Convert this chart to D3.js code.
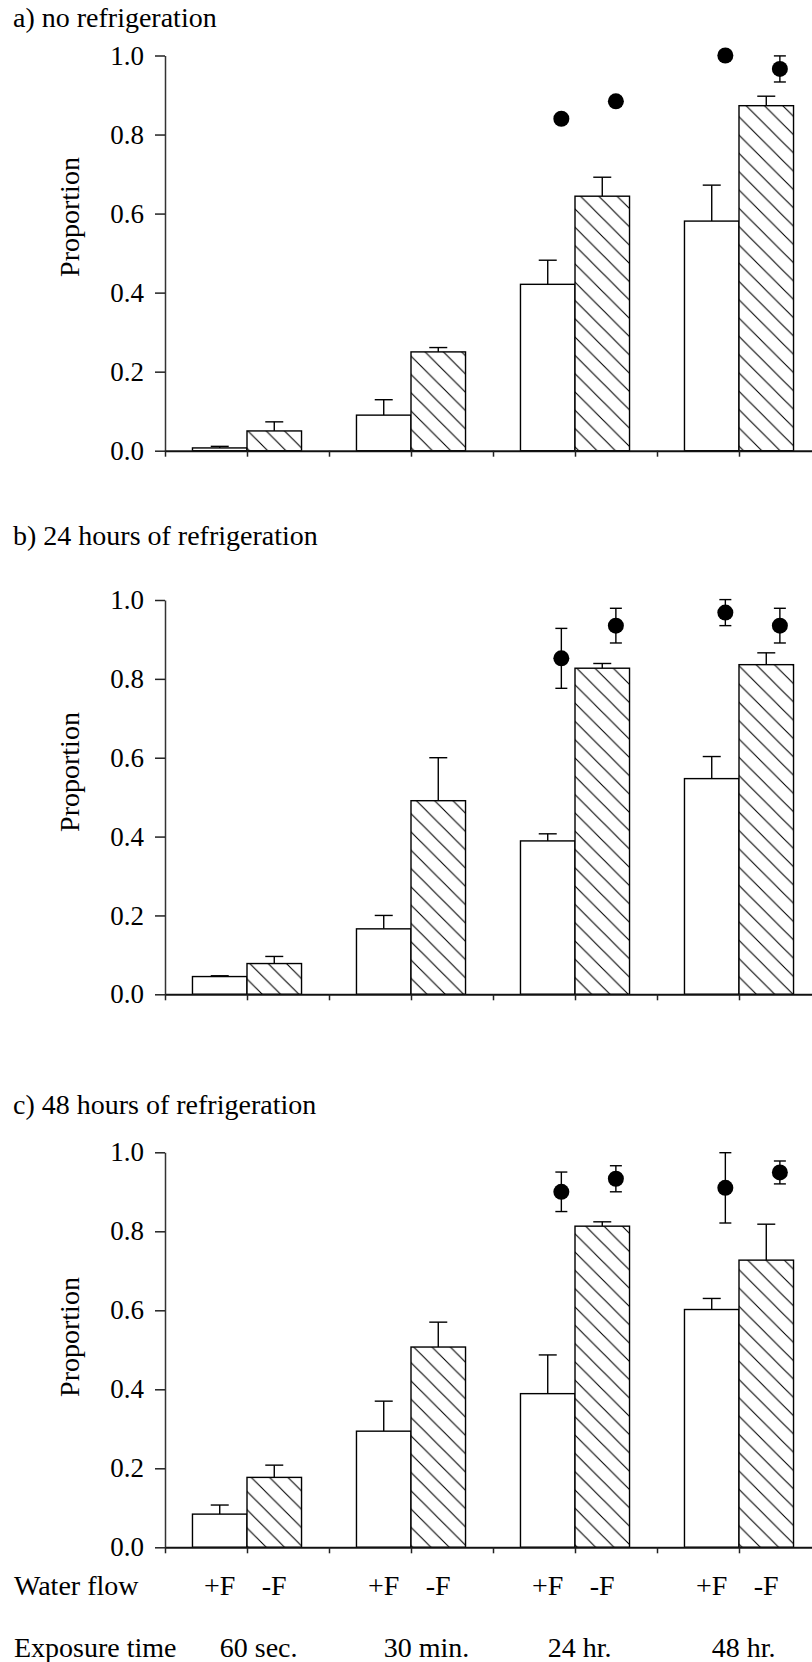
<!DOCTYPE html>
<html>
<head>
<meta charset="utf-8">
<script src="https://cdn.jsdelivr.net/npm/d3@7"></script>
<style>
  html, body { margin: 0; padding: 0; background: #fff; }
  svg { display: block; }
  text { font-family: "Liberation Serif", "Times New Roman", serif; fill: #000; }
</style>
</head>
<body>
<script>
// Exposure-time groups and water-flow treatments
const groups = ["60 sec.", "30 min.", "24 hr.", "48 hr."];
const flows = ["+F", "-F"];
const yTicks = [0, 0.2, 0.4, 0.6, 0.8, 1.0];
const panelTitles = ["a) no refrigeration", "b) 24 hours of refrigeration", "c) 48 hours of refrigeration"];

// Panel a: no refrigeration
const aPlusF = [0.007, 0.090, 0.421, 0.581];
const aPlusFSE = [0.004, 0.039, 0.061, 0.091];
const aMinusF = [0.050, 0.250, 0.644, 0.873];
const aMinusFSE = [0.023, 0.011, 0.048, 0.024];
// points shown above the last two groups: [group, flow, value, se]
const aPoints = [[2, 0, 0.840, 0], [2, 1, 0.884, 0.012], [3, 0, 1.000, 0], [3, 1, 0.966, 0.033]];

// Panel b: 24 hours of refrigeration
const bPlusF = [0.045, 0.166, 0.389, 0.547];
const bPlusFSE = [0.002, 0.034, 0.018, 0.056];
const bMinusF = [0.078, 0.491, 0.827, 0.836];
const bMinusFSE = [0.018, 0.109, 0.012, 0.030];
const bPoints = [[2, 0, 0.852, 0.076], [2, 1, 0.935, 0.044], [3, 0, 0.968, 0.033], [3, 1, 0.935, 0.044]];

// Panel c: 48 hours of refrigeration
const cPlusF = [0.084, 0.294, 0.389, 0.602];
const cPlusFSE = [0.023, 0.076, 0.098, 0.028];
const cMinusF = [0.177, 0.507, 0.813, 0.727];
const cMinusFSE = [0.031, 0.063, 0.011, 0.091];
const cPoints = [[2, 0, 0.900, 0.050], [2, 1, 0.933, 0.033], [3, 0, 0.910, 0.089], [3, 1, 0.949, 0.029]];

const panelData = [
  { title: panelTitles[0], plus: aPlusF, plusSE: aPlusFSE, minus: aMinusF, minusSE: aMinusFSE, points: aPoints },
  { title: panelTitles[1], plus: bPlusF, plusSE: bPlusFSE, minus: bMinusF, minusSE: bMinusFSE, points: bPoints },
  { title: panelTitles[2], plus: cPlusF, plusSE: cPlusFSE, minus: cMinusF, minusSE: cMinusFSE, points: cPoints }
];

// Vertical layout of each panel (pixel positions)
const panelLayout = [
  { yTop: 55.5, yBottom: 450.7, titleY: 27, labelY: 217 },
  { yTop: 600, yBottom: 994.3, titleY: 545, labelY: 772 },
  { yTop: 1152.3, yBottom: 1547.3, titleY: 1113.5, labelY: 1337 }
];

const W = 812, H = 1662;
const FONT = 28;
const TICK_FONT = 27;
const barW = 0.665;      // bar width in x-units (one unit = half a group)
const dotShift = 0.166;  // points sit slightly right of bar centre

const svg = d3.select("body").append("svg").attr("width", W).attr("height", H);

// Diagonal hatch for the -F bars
const defs = svg.append("defs");
const hs = 18.3;
const pat = defs.append("pattern").attr("id", "hatch")
  .attr("patternUnits", "userSpaceOnUse").attr("width", hs).attr("height", hs);
pat.append("rect").attr("width", hs).attr("height", hs).attr("fill", "#fff");
pat.append("path")
  .attr("d", `M${-hs/2},${hs/2} L${hs/2},${hs*1.5} M0,0 L${hs},${hs} M${hs/2},${-hs/2} L${hs*1.5},${hs/2}`)
  .attr("stroke", "#000").attr("stroke-width", 1.1).attr("fill", "none");

const x = d3.scaleLinear().domain([0, 8]).range([165, 821]);
const groupCenter = i => 2 * i + 1;

panelData.forEach((p, pi) => {
  const L = panelLayout[pi];
  const y = d3.scaleLinear().domain([0, 1]).range([L.yBottom, L.yTop]);
  const g = svg.append("g");

  // title
  g.append("text").attr("x", 13).attr("y", L.titleY)
    .attr("font-size", FONT).text(p.title);

  // y-axis label
  g.append("text")
    .attr("transform", `translate(79,${L.labelY}) rotate(-90)`)
    .attr("text-anchor", "middle").attr("font-size", 28).text("Proportion");

  // bars
  const bars = [];
  groups.forEach((gr, i) => {
    bars.push({ x0: groupCenter(i) - barW, x1: groupCenter(i), v: p.plus[i], se: p.plusSE[i], fill: "#fff" });
    bars.push({ x0: groupCenter(i), x1: groupCenter(i) + barW, v: p.minus[i], se: p.minusSE[i], fill: "url(#hatch)" });
  });

  // error whiskers (upper) for bars
  const eb = g.append("g").attr("stroke", "#000").attr("stroke-width", 1.4).attr("fill", "none");
  bars.forEach(b => {
    if (b.se <= 0) return;
    const cx = x((b.x0 + b.x1) / 2);
    eb.append("line").attr("x1", cx).attr("x2", cx).attr("y1", y(b.v)).attr("y2", y(b.v + b.se));
    eb.append("line").attr("x1", cx - 9).attr("x2", cx + 9).attr("y1", y(b.v + b.se)).attr("y2", y(b.v + b.se));
  });

  g.append("g").selectAll("rect").data(bars).join("rect")
    .attr("x", d => x(d.x0))
    .attr("width", d => x(d.x1) - x(d.x0))
    .attr("y", d => y(d.v))
    .attr("height", d => y(0) - y(d.v))
    .attr("fill", d => d.fill)
    .attr("stroke", "#000").attr("stroke-width", 1.4);

  // points with symmetric error bars
  const pts = g.append("g");
  p.points.forEach(([gi, fi, v, se]) => {
    const u = fi === 0 ? groupCenter(gi) - barW / 2 + dotShift : groupCenter(gi) + barW / 2 + dotShift;
    const cx = x(u);
    if (se > 0) {
      pts.append("line").attr("x1", cx).attr("x2", cx).attr("y1", y(v - se)).attr("y2", y(v + se))
        .attr("stroke", "#000").attr("stroke-width", 1.4);
      [v - se, v + se].forEach(e => {
        pts.append("line").attr("x1", cx - 6).attr("x2", cx + 6).attr("y1", y(e)).attr("y2", y(e))
          .attr("stroke", "#000").attr("stroke-width", 1.4);
      });
    }
    pts.append("circle").attr("cx", cx).attr("cy", y(v)).attr("r", 8).attr("fill", "#000");
  });

  // y axis
  const yAxis = g.append("g").attr("transform", `translate(${x(0)},0)`)
    .call(d3.axisLeft(y).tickValues(yTicks).tickFormat(d3.format(".1f"))
      .tickSize(10).tickSizeOuter(0).tickPadding(11));
  yAxis.attr("font-family", null).attr("font-size", null);
  yAxis.select(".domain").attr("stroke", "#333").attr("stroke-width", 1.5);
  yAxis.selectAll(".tick line").attr("stroke", "#222").attr("stroke-width", 1.5);
  yAxis.selectAll(".tick text").attr("font-size", TICK_FONT)
    .attr("font-family", '"Liberation Serif", "Times New Roman", serif');

  // x axis
  const xAxis = g.append("g").attr("transform", `translate(0,${y(0)})`)
    .call(d3.axisBottom(x).tickValues(d3.range(0, 9)).tickFormat("").tickSize(6).tickSizeOuter(0));
  xAxis.select(".domain").attr("stroke", "#111").attr("stroke-width", 2);
  xAxis.selectAll(".tick line").attr("stroke", "#222").attr("stroke-width", 1.5);
});

// category labels beneath the last panel
const lab = svg.append("g").attr("font-size", FONT);
lab.append("text").attr("x", 14).attr("y", 1595).text("Water flow");
lab.append("text").attr("x", 14).attr("y", 1657).text("Exposure time");
groups.forEach((gr, i) => {
  flows.forEach((f, fi) => {
    const u = fi === 0 ? groupCenter(i) - barW / 2 : groupCenter(i) + barW / 2;
    lab.append("text").attr("x", x(u)).attr("y", 1595).attr("text-anchor", "middle").text(f);
  });
  lab.append("text").attr("x", x(groupCenter(i) - barW / 2)).attr("y", 1657).text(gr);
});
</script>
</body>
</html>
